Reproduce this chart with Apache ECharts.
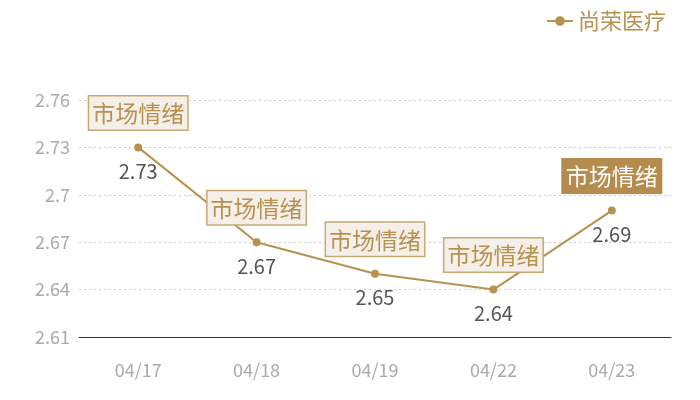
<!DOCTYPE html>
<html><head><meta charset="utf-8">
<script src="https://cdn.jsdelivr.net/npm/echarts@6/dist/echarts.min.js"></script>
<style>html,body{margin:0;padding:0;background:#fff}#c{width:700px;height:400px}</style>
</head><body><div id="c"></div>
<script>
var categories = ['04/17','04/18','04/19','04/22','04/23'];
var seriesName = '尚荣医疗';
var values = [2.73, 2.67, 2.65, 2.64, 2.69];
var markText = '市场情绪';
var markIndex = [0,1,2,3,4];
var highlightIndex = 4;
var yTicks = [2.61, 2.64, 2.67, 2.7, 2.73, 2.76];

var gold = '#b8914f';
var font = '"Noto Sans CJK SC","Noto Sans",sans-serif';

var markData = markIndex.map(function(i){
  var hl = i === highlightIndex;
  return {
    coord: [categories[i], values[i]],
    value: markText,
    label: {
      show: true,
      formatter: markText,
      position: 'top',
      distance: 18,
      fontFamily: font,
      fontSize: 23,
      color: hl ? '#fff' : gold,
      backgroundColor: hl ? '#b58c4e' : '#f4efe8',
      borderColor: hl ? '#b58c4e' : '#c9a872',
      borderWidth: 1.5,
      padding: [4, 3, 3, 3],
      lineHeight: 26
    }
  };
});

var chart = echarts.init(document.getElementById('c'));
chart.setOption({
  animation: false,
  textStyle: {fontFamily: font},
  legend: {
    right: 29, top: 5,
    data: [seriesName],
    itemWidth: 26, itemHeight: 12, itemGap: 8,
    textStyle: {color: gold, fontSize: 22, fontFamily: font}
  },
  grid: {left: 79, right: 29, top: 100, bottom: 63},
  xAxis: {
    type: 'category',
    data: categories,
    axisLine: {lineStyle: {color: '#333'}},
    axisTick: {show: false},
    axisLabel: {color: '#aaa', fontSize: 18, margin: 24, fontFamily: font}
  },
  yAxis: {
    type: 'value',
    min: yTicks[0], max: yTicks[yTicks.length-1], interval: 0.03,
    axisLine: {show: false},
    axisTick: {show: false},
    axisLabel: {color: '#aaa', fontSize: 18, margin: 9, fontFamily: font,
      formatter: function(v){ return String(+v.toFixed(2)); }},
    splitLine: {lineStyle: {color: '#ccc', type: [2,3]}}
  },
  series: [{
    name: seriesName,
    type: 'line',
    data: values,
    color: gold,
    symbol: 'circle',
    symbolSize: 8,
    lineStyle: {width: 2, color: gold},
    label: {show: true, position: 'bottom', distance: 10, color: '#555', fontSize: 20, fontFamily: font},
    markPoint: {
      symbol: 'circle', symbolSize: 0,
      data: markData
    }
  }]
});
</script></body></html>
